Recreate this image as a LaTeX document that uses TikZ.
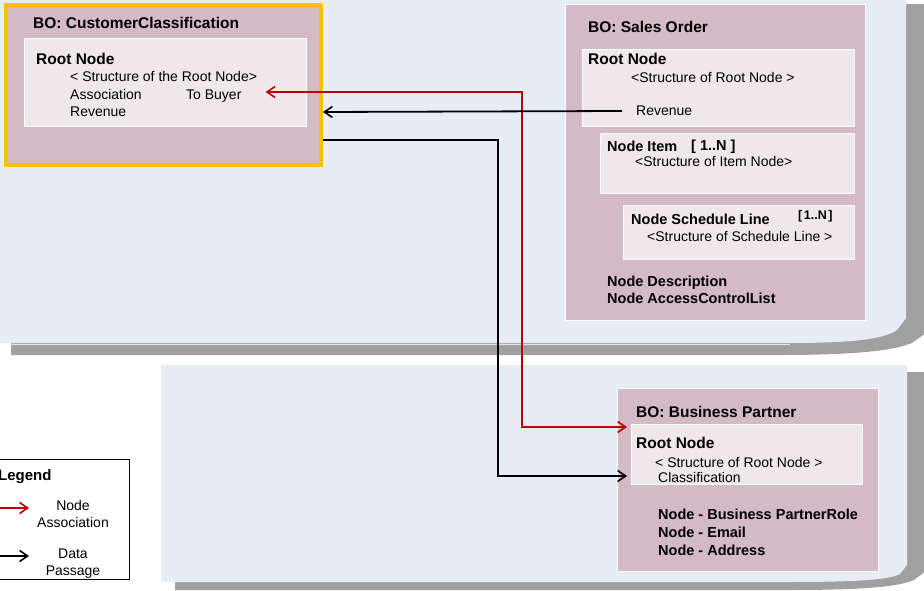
\documentclass[tikz,border=0pt]{standalone}
\usepackage{fontspec}
\setmainfont{Liberation Sans}
\usetikzlibrary{arrows.meta}
\definecolor{panelblue}{RGB}{230,237,246}
\definecolor{shadowgray}{RGB}{160,160,160}
\definecolor{mauve}{RGB}{212,186,198}
\definecolor{innerbox}{RGB}{239,232,235}
\definecolor{goldborder}{RGB}{255,192,0}
\definecolor{assocred}{RGB}{192,0,0}
\tikzset{
  bobox/.style={draw=white, line width=0.8pt, fill=mauve, anchor=north west, inner sep=0, outer sep=0},
  inbox/.style={draw=white, line width=0.8pt, fill=innerbox, anchor=north west, inner sep=0, outer sep=0},
  ttl/.style={anchor=west, inner sep=0, text height=11pt, text depth=0pt, font=\fontsize{15.5}{18}\selectfont\bfseries},
  lbl/.style={anchor=west, inner sep=0, text height=10pt, text depth=0pt, font=\fontsize{14}{16}\selectfont},
  blbl/.style={anchor=west, inner sep=0, text height=10pt, text depth=0pt, font=\fontsize{14.5}{16}\selectfont\bfseries},
  ctr/.style={anchor=center, inner sep=0, text height=10pt, text depth=0pt, font=\fontsize{14}{16}\selectfont},
  arrowtip/.style={-{Straight Barb[length=8pt,width=11pt,line width=1.6pt]}},
  assoc/.style={draw=assocred, line width=1.8pt, line join=miter},
  datap/.style={draw=black, line width=1.8pt, line join=miter},
}
\begin{document}
\begin{tikzpicture}[x=1pt,y=-1pt]
\useasboundingbox (0,0) rectangle (924,591);
\clip (0,0) rectangle (924,591);
% ---------- top panel ----------
\fill[shadowgray] (11,4) -- (930,4) -- (930,330) -- (912,343)
  .. controls (895,350) and (860,355) .. (780,355) -- (11,355) -- cycle;
\fill[panelblue] (-10,-10) -- (906,-10) -- (906,318) -- (897,330)
  .. controls (885,338) and (860,343) .. (790,343) -- (-10,343) -- cycle;
\draw[white!80!gray, line width=0.8pt] (11,344) -- (790,344);
% ---------- bottom panel ----------
\fill[shadowgray] (175,372) -- (930,372) -- (930,568) -- (914,580)
  .. controls (900,586) and (870,590) .. (790,590) -- (175,590) -- cycle;
\fill[panelblue] (161,365) -- (907,365) -- (907,565) -- (900,574)
  .. controls (890,579) and (865,582) .. (790,582) -- (161,582) -- cycle;
% ---------- BO: CustomerClassification ----------
\node[bobox, draw=goldborder, line width=4pt, minimum width=315pt, minimum height=160pt] (cc) at (6,5) {};
\node[ttl] (ccTitle) at (33,23) {BO: CustomerClassification};
\node[inbox, minimum width=282pt, minimum height=88pt] (ccRoot) at (24,38) {};
\node[ttl] (ccRootT) at (36,59) {Root Node};
\node[lbl] (ccStruct) at (70,77) {< Structure of the Root Node>};
\node[lbl] (ccAssoc) at (70,95) {Association};
\node[lbl] (ccBuyer) at (186,95) {To Buyer};
\node[lbl] (ccRev) at (70,112) {Revenue};
% ---------- BO: Sales Order ----------
\node[bobox, minimum width=300pt, minimum height=316pt] (so) at (565,4) {};
\node[ttl] (soTitle) at (588,27) {BO: Sales Order};
\node[inbox, minimum width=272pt, minimum height=77pt] (soRoot) at (582,49) {};
\node[ttl] (soRootT) at (588,59) {Root Node};
\node[lbl] (soStruct) at (631,78) {<Structure of Root Node >};
\node[lbl] (soRev) at (636,111) {Revenue};
\node[inbox, minimum width=254pt, minimum height=60pt] (soItem) at (600,133) {};
\node[blbl] (soItemT) at (607,147) {Node Item};
\node[blbl] (soItemN) at (691,146) {[ 1..N ]};
\node[inbox, minimum width=231pt, minimum height=54pt] (soSched) at (623,205) {};
\node[lbl] (soItemS) at (635,162) {<Structure of Item Node>};
\node[blbl] (soSchedT) at (631,219) {Node Schedule Line};
\node[anchor=west, inner sep=0, font=\fontsize{12.5}{14}\selectfont\bfseries] (soSchedN) at (798,216) {[\kern1.5pt1..N\kern1.5pt]};
\node[lbl] (soSchedS) at (647,236) {<Structure of Schedule Line >};
\node[blbl] (soDesc) at (607,281) {Node Description};
\node[blbl] (soACL) at (607,298) {Node AccessControlList};
% ---------- BO: Business Partner ----------
\node[bobox, minimum width=261pt, minimum height=183pt] (bp) at (617.5,388) {};
\node[ttl] (bpTitle) at (636,412) {BO: Business Partner};
\node[inbox, minimum width=231pt, minimum height=60pt] (bpRoot) at (631,424) {};
\node[ttl] (bpRootT) at (636,443) {Root Node};
\node[lbl] (bpStruct) at (655,462) {< Structure of Root Node >};
\node[lbl] (bpClass) at (658,477) {Classification};
\node[blbl] (bpRole) at (658,514) {Node - Business PartnerRole};
\node[blbl] (bpMail) at (658,532) {Node - Email};
\node[blbl] (bpAddr) at (658,550) {Node - Address};
% ---------- connectors ----------
\coordinate (redTurn) at (522,427);
\coordinate (blackTurn) at (498,476);
\draw[assoc, {Straight Barb[length=8pt,width=11pt,line width=1.6pt]}-{Straight Barb[length=8pt,width=11pt,line width=1.6pt]}]
  ([xshift=24pt]ccBuyer.east |- 0,92) -| (redTurn) -- ([xshift=-4pt]bpRoot.west |- redTurn);
\draw[datap, arrowtip] ([xshift=-14pt]soRev.west) -- ([xshift=2pt]cc.east |- 0,112);
\draw[datap, arrowtip] ([xshift=2pt]cc.east |- 0,140) -| (blackTurn) -- ([xshift=-4pt]bpRoot.west |- blackTurn);
% ---------- legend ----------
\node[draw=black, line width=0.8pt, fill=white, anchor=north west, inner sep=0, outer sep=0, minimum width=139pt, minimum height=120pt] (legend) at (-10,459) {};
\node[ttl, font=\fontsize{15}{18}\selectfont\bfseries] (legendT) at (-2,475) {Legend};
\node[ctr] (lgNode) at (73,505) {Node};
\node[ctr] (lgAssoc) at (73,522) {Association};
\node[ctr] (lgData) at (73,553) {Data};
\node[ctr] (lgPass) at (73,570) {Passage};
\coordinate (lgRedStart) at (-5,508);
\coordinate (lgBlackStart) at (-5,556);
\draw[assoc, arrowtip] (lgRedStart) -- ([xshift=-8pt]lgAssoc.west |- lgRedStart);
\draw[datap, arrowtip] (lgBlackStart) -- ([xshift=-8pt]lgAssoc.west |- lgBlackStart);
\end{tikzpicture}
\end{document}
